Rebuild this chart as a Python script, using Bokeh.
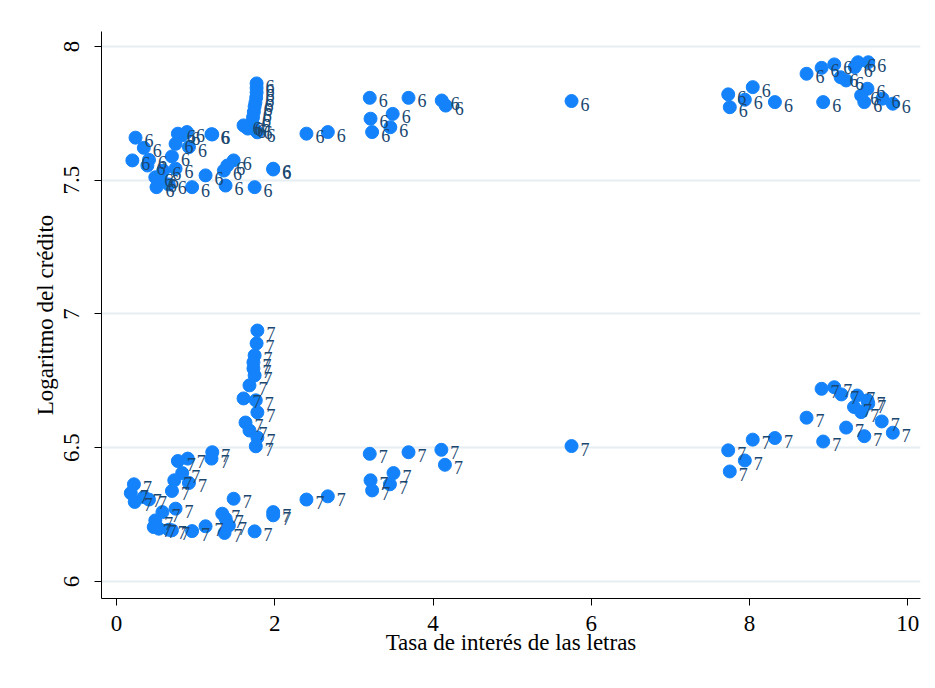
from bokeh.plotting import figure
from bokeh.models import ColumnDataSource, Range1d, FixedTicker
from bokeh.embed import file_html
from bokeh.resources import INLINE
from bokeh.core.properties import value

# ---- data: group labelled "6" (upper cloud) ----
x6 = [0.24, 0.345, 0.20, 0.41, 0.39, 0.746, 0.775, 0.89, 0.83, 0.915, 0.70, 1.21, 1.20,
      0.59, 0.746, 0.49, 0.535, 0.505, 0.56, 0.66, 0.955, 1.125, 1.357, 1.40, 1.48, 1.378,
      1.745, 1.98, 1.98, 2.40, 2.67,
      1.77, 1.77, 1.77, 1.765, 1.755, 1.745, 1.735, 1.725, 1.715, 1.605, 1.63, 1.66, 1.745, 1.78,
      3.20, 3.21, 3.23, 3.49, 3.46, 3.69, 4.11, 4.16, 5.75,
      8.72, 8.91, 9.07, 9.15, 9.22, 9.33, 9.37, 9.50, 9.49, 9.41, 9.68, 9.45, 9.81, 8.93,
      8.32, 8.04, 7.94, 7.73, 7.75]
y6 = [7.659, 7.621, 7.574, 7.576, 7.555, 7.636, 7.674, 7.680, 7.668, 7.624, 7.589, 7.671, 7.672,
      7.536, 7.543, 7.511, 7.493, 7.474, 7.505, 7.484, 7.474, 7.518, 7.536, 7.555, 7.574, 7.480,
      7.474, 7.543, 7.540, 7.674, 7.680,
      7.862, 7.845, 7.828, 7.809, 7.790, 7.775, 7.755, 7.735, 7.716, 7.705, 7.700, 7.693, 7.690, 7.679,
      7.808, 7.730, 7.680, 7.748, 7.698, 7.808, 7.798, 7.779, 7.796,
      7.898, 7.920, 7.933, 7.885, 7.873, 7.923, 7.941, 7.941, 7.842, 7.817, 7.805, 7.792, 7.786, 7.792,
      7.792, 7.848, 7.801, 7.821, 7.773]

# ---- data: group labelled "7" (lower cloud) ----
x7 = [0.22, 0.18, 0.23, 0.345, 0.41, 1.21, 1.20, 0.90, 0.775, 0.83, 0.73, 0.915, 0.70,
      0.746, 0.58, 0.49, 0.47, 0.535, 0.66, 0.70, 0.955, 1.125, 1.336, 1.38, 1.42, 1.365,
      1.745, 1.48, 1.98, 1.98, 2.40, 2.67,
      1.78, 1.77, 1.745, 1.73, 1.73, 1.745, 1.68, 1.605, 1.76, 1.78, 1.63, 1.68, 1.78, 1.76,
      3.20, 3.21, 3.23, 3.50, 3.455, 3.69, 4.105, 4.15, 5.75,
      8.91, 9.07, 9.16, 9.36, 9.49, 9.50, 9.32, 9.41, 8.72, 9.67, 9.22, 9.45, 9.81, 8.93,
      8.32, 8.04, 7.73, 7.94, 7.75]
y7 = [6.363, 6.330, 6.297, 6.315, 6.306, 6.483, 6.459, 6.459, 6.450, 6.405, 6.378, 6.368, 6.338,
      6.272, 6.259, 6.228, 6.203, 6.197, 6.193, 6.191, 6.188, 6.206, 6.253, 6.234, 6.209, 6.181,
      6.187, 6.309, 6.259, 6.247, 6.306, 6.318,
      6.938, 6.890, 6.845, 6.819, 6.796, 6.770, 6.733, 6.684, 6.677, 6.632, 6.594, 6.564, 6.538, 6.505,
      6.477, 6.378, 6.340, 6.405, 6.363, 6.483, 6.492, 6.436, 6.506,
      6.720, 6.726, 6.699, 6.695, 6.677, 6.665, 6.652, 6.633, 6.612, 6.598, 6.575, 6.543, 6.556, 6.523,
      6.536, 6.530, 6.490, 6.452, 6.411]

y_ticks = [6, 6.5, 7, 7.5, 8]
x_ticks = [0, 2, 4, 6, 8, 10]
x_title = "Tasa de interés de las letras"
y_title = "Logaritmo del crédito"

FONT = "Liberation Serif"
MARK = "#1483fb"
LAB = "#1a476f"

p = figure(width=935, height=688, output_backend="svg", toolbar_location=None,
           x_range=Range1d(-0.19, 10.16), y_range=Range1d(5.936, 8.056),
           min_border_left=101, min_border_right=15, min_border_top=31, min_border_bottom=90,
           background_fill_color="white", border_fill_color="white")
p.outline_line_color = None

for xs, ys, lab in ((x6, y6, "6"), (x7, y7, "7")):
    src = ColumnDataSource(dict(x=xs, y=ys, lab=[lab] * len(xs)))
    p.scatter("x", "y", source=src, size=13, fill_color=MARK, line_color=MARK)
    p.text("x", "y", text="lab", source=src, text_font=value(FONT), text_font_size="18px",
           text_color=LAB, text_align="left", text_baseline="middle", x_offset=9, y_offset=3)

p.xgrid.grid_line_color = None
p.ygrid.grid_line_color = "#e6eef2"
p.ygrid.grid_line_width = 2
p.ygrid.ticker = FixedTicker(ticks=y_ticks)

p.xaxis.ticker = FixedTicker(ticks=x_ticks)
p.yaxis.ticker = FixedTicker(ticks=y_ticks)
for ax in (p.xaxis[0], p.yaxis[0]):
    ax.axis_line_color = "black"
    ax.axis_line_width = 1
    ax.major_tick_line_color = "black"
    ax.major_tick_out = 7
    ax.major_tick_in = 0
    ax.minor_tick_line_color = None
    ax.major_label_text_font = FONT
    ax.major_label_text_font_size = "23px"
    ax.major_label_text_color = "black"
    ax.axis_label_text_font = FONT
    ax.axis_label_text_font_size = "23px"
    ax.axis_label_text_font_style = "normal"
    ax.axis_label_text_color = "black"

p.xaxis.axis_label = x_title
p.yaxis.axis_label = y_title
p.yaxis.major_label_orientation = "vertical"
p.xaxis.major_label_standoff = 10
p.xaxis.axis_label_standoff = -4
p.yaxis.major_label_standoff = 15
p.yaxis.axis_label_standoff = 4

open("out.html", "w").write(file_html(p, INLINE))
